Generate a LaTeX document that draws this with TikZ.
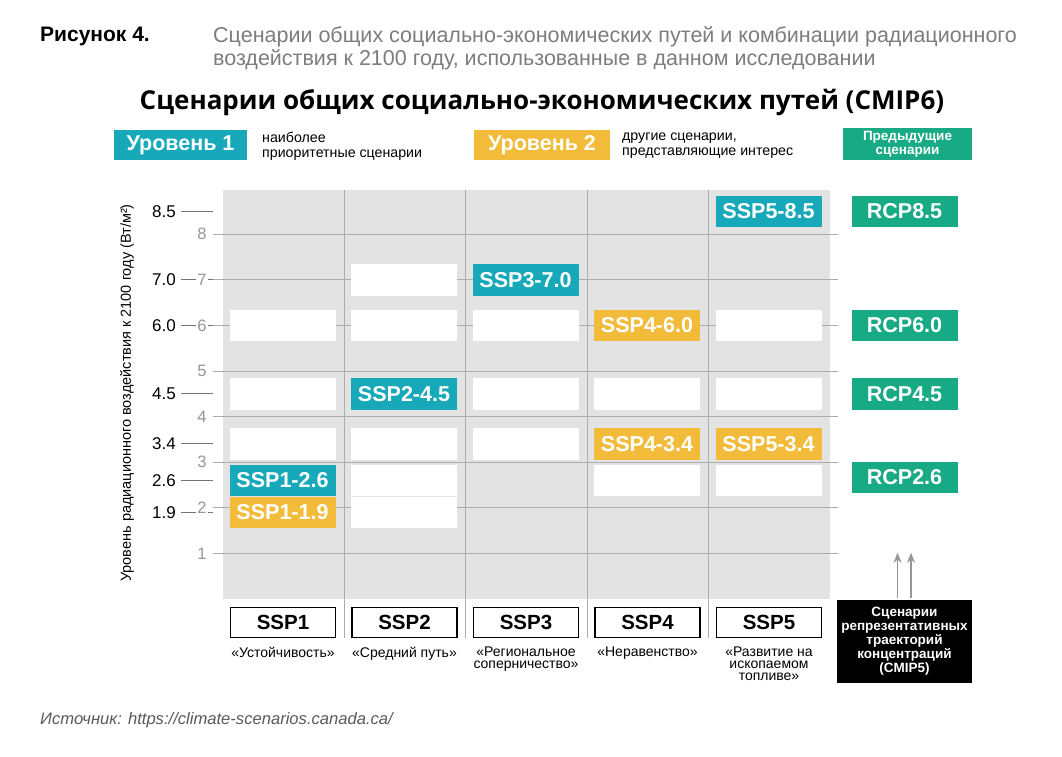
\documentclass[tikz,border=0pt]{standalone}
\usepackage{fontspec}
\setmainfont{Liberation Sans}
\newfontfamily\titlefont{Open Sans}
\usetikzlibrary{arrows.meta}
\definecolor{tealA}{RGB}{23,168,185}
\definecolor{yelA}{RGB}{242,187,58}
\definecolor{grnA}{RGB}{24,170,132}
\definecolor{bgA}{RGB}{227,227,227}
\definecolor{gridA}{RGB}{172,172,172}
\definecolor{numA}{RGB}{150,150,150}
\definecolor{headA}{RGB}{125,125,125}
\definecolor{srcA}{RGB}{90,90,90}
\tikzset{
  cell/.style={minimum width=106pt, minimum height=31.5pt, inner sep=0pt, text=white, font=\fontsize{21.5}{21.5}\selectfont\bfseries},
  tierone/.style={cell, fill=tealA},
  tiertwo/.style={cell, fill=yelA},
  blank/.style={cell, fill=white},
  rcpbox/.style={cell, fill=grnA},
  sspbox/.style={minimum width=105pt, minimum height=30pt, inner sep=0pt, draw=black, line width=1.2pt, fill=white, font=\fontsize{20.5}{20.5}\selectfont\bfseries},
  sublab/.style={anchor=north, align=center, inner sep=0pt, font=\fontsize{14}{12}\selectfont},
  gridln/.style={draw=gridA, line width=1pt},
  tickln/.style={draw=black!55, line width=1pt},
  gnum/.style={text=numA, fill=white, inner sep=1pt, font=\fontsize{16.5}{16.5}\selectfont},
  vlab/.style={anchor=east, inner sep=0pt, font=\fontsize{17}{17}\selectfont},
  legbox/.style={minimum height=30pt, inner sep=0pt, text=white},
  legtxt/.style={anchor=west, align=left, inner sep=0pt, font=\fontsize{14.2}{15}\selectfont},
  arr/.style={draw=numA, line width=1.5pt, -{Stealth[length=10pt,width=8pt]}}
}
\begin{document}
\begin{tikzpicture}[x=1pt, y=-1pt]
\useasboundingbox (0,0) rectangle (1062,757);
\fill[white] (0,0) rectangle (1062,757);
% header
\node[anchor=base west, inner sep=0pt, font=\fontsize{21}{20}\selectfont\bfseries] (fig) at (40,42) {Рисунок 4.};
\node[anchor=base west, inner sep=0pt, text=headA, font=\fontsize{21.5}{23}\selectfont] (cap1) at (213,43) {Сценарии общих социально-экономических путей и комбинации радиационного};
\node[anchor=base west, inner sep=0pt, text=headA, font=\fontsize{21.5}{23}\selectfont] (cap2) at (213,66) {воздействия к 2100 году, использованные в данном исследовании};
\node[anchor=base, inner sep=0pt, font=\titlefont\fontsize{26}{26}\selectfont\bfseries] (title) at (542,110) {Сценарии общих социально-экономических путей (CMIP6)};
% legend
\node[legbox, fill=tealA, minimum width=133pt, font=\fontsize{21.5}{21.5}\selectfont\bfseries] (lv1) at (180.5,145) {Уровень 1};
\node[legtxt] (lt1) at (262,146) {наиболее\\приоритетные сценарии};
\node[legbox, fill=yelA, minimum width=136pt, font=\fontsize{21.5}{21.5}\selectfont\bfseries] (lv2) at (542,145) {Уровень 2};
\node[legtxt] (lt2) at (622,146) {другие сценарии,\\представляющие интерес};
\node[legbox, fill=grnA, minimum width=129pt, minimum height=32pt, align=center, font=\fontsize{13.5}{14}\selectfont\bfseries] (lv3) at (907.5,144) {Предыдущие\\сценарии};
% grey area
\fill[bgA] (222.7,190) rectangle (830,598.5);
\foreach \v in {1,...,8} {
  \draw[gridln] (213,{599-45.6*\v}) -- (838,{599-45.6*\v});
}
\foreach \xx in {344,465.5,587,708.5} {
  \draw[gridln] (\xx,190) -- (\xx,638);
}
% value ticks and labels
\foreach \v/\t in {8.5/8.5, 7/7.0, 6/6.0, 4.5/4.5, 3.4/3.4, 2.6/2.6, 1.9/1.9} {
  \draw[tickln] (181,{599-45.6*\v}) -- (213,{599-45.6*\v});
  \node[vlab] (val\t) at (176,{599-45.6*\v}) {\t};
}
\foreach \v in {1,...,8} {
  \node[gnum] (gn\v) at (202,{599-45.6*\v}) {\v};
}
% axis title
\node[rotate=90, inner sep=0pt, font=\fontsize{14.5}{14.5}\selectfont] (ytitle) at (127,393) {Уровень радиационного воздействия к 2100 году (Вт/м²)};
% column 1
\node[blank] (c1a) at (282.5,325.4) {};
\node[blank] (c1b) at (282.5,393.8) {};
\node[blank] (c1c) at (282.5,444.0) {};
\node[tierone] (s126) at (282.5,480.4) {SSP1-2.6};
\node[tiertwo] (s119) at (282.5,512.4) {SSP1-1.9};
% column 2
\node[blank] (c2a) at (404,279.8) {};
\node[blank] (c2b) at (404,325.4) {};
\node[tierone] (s245) at (404,393.8) {SSP2-4.5};
\node[blank] (c2c) at (404,444.0) {};
\node[blank] (c2d) at (404,480.4) {};
\node[blank] (c2e) at (404,512.4) {};
% column 3
\node[tierone] (s370) at (525.5,279.8) {SSP3-7.0};
\node[blank] (c3a) at (525.5,325.4) {};
\node[blank] (c3b) at (525.5,393.8) {};
\node[blank] (c3c) at (525.5,444.0) {};
% column 4
\node[tiertwo] (s460) at (647,325.4) {SSP4-6.0};
\node[blank] (c4a) at (647,393.8) {};
\node[tiertwo] (s434) at (647,444.0) {SSP4-3.4};
\node[blank] (c4b) at (647,480.4) {};
% column 5
\node[tierone] (s585) at (768.5,211.4) {SSP5-8.5};
\node[blank] (c5a) at (768.5,325.4) {};
\node[blank] (c5b) at (768.5,393.8) {};
\node[tiertwo] (s534) at (768.5,444.0) {SSP5-3.4};
\node[blank] (c5c) at (768.5,480.4) {};
% RCP column
\node[rcpbox] (r85) at (904.5,211.4) {RCP8.5};
\node[rcpbox] (r60) at (904.5,325.4) {RCP6.0};
\node[rcpbox] (r45) at (904.5,393.8) {RCP4.5};
\node[rcpbox] (r26) at (904.5,477.5) {RCP2.6};
% bottom boxes
\node[sspbox] (b1) at (283,622.5) {SSP1};
\node[sspbox] (b2) at (404.5,622.5) {SSP2};
\node[sspbox] (b3) at (526,622.5) {SSP3};
\node[sspbox] (b4) at (647.5,622.5) {SSP4};
\node[sspbox] (b5) at (769,622.5) {SSP5};
\node[sublab] (l1) at (283,647) {«Устойчивость»};
\node[sublab] (l2) at (404.5,647) {«Средний путь»};
\node[sublab] (l3) at (526,647) {«Региональное\\соперничество»};
\node[sublab] (l4) at (647.5,647) {«Неравенство»};
\node[sublab] (l5) at (769,647) {«Развитие на\\ископаемом\\топливе»};
\node[fill=black, text=white, minimum width=135pt, minimum height=83pt, inner sep=0pt, align=center, font=\fontsize{13.5}{14}\selectfont\bfseries] (cmip) at (904.5,641.5) {Сценарии\\репрезентативных\\траекторий\\концентраций\\(CMIP5)};
% arrows
\coordinate (a1s) at ([xshift=-7pt,yshift=2pt]cmip.north);
\coordinate (a2s) at ([xshift=6.5pt,yshift=2pt]cmip.north);
\coordinate (a1e) at ([xshift=-7pt,yshift=47pt]cmip.north);
\coordinate (a2e) at ([xshift=6.5pt,yshift=47pt]cmip.north);
\draw[arr] (a1s) -- (a1e);
\draw[arr] (a2s) -- (a2e);
% source
\node[anchor=base west, inner sep=0pt, text=srcA, font=\fontsize{16.6}{16.6}\selectfont\itshape] (src) at (40,724) {Источник: https://climate-scenarios.canada.ca/};
\end{tikzpicture}
\end{document}
